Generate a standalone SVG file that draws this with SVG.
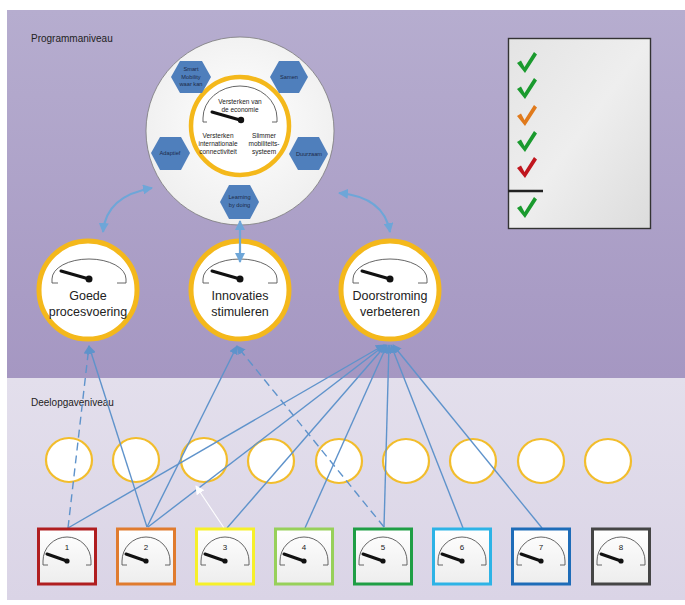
<svg xmlns="http://www.w3.org/2000/svg" width="685" height="605" viewBox="0 0 685 605">
  <defs>
    <linearGradient id="gTop" x1="0" y1="0" x2="0" y2="1">
      <stop offset="0" stop-color="#b6adcf"/>
      <stop offset="1" stop-color="#a597c2"/>
    </linearGradient>
    <linearGradient id="gLow" x1="0" y1="0" x2="0" y2="1">
      <stop offset="0" stop-color="#e3dfec"/>
      <stop offset="1" stop-color="#dad4e6"/>
    </linearGradient>
    <linearGradient id="gPanel" x1="0" y1="0" x2="1" y2="1">
      <stop offset="0" stop-color="#e4e4e4"/>
      <stop offset="0.5" stop-color="#eeeeee"/>
      <stop offset="1" stop-color="#dcdcdc"/>
    </linearGradient>
    <radialGradient id="gDisc" cx="0.5" cy="0.45" r="0.55">
      <stop offset="0" stop-color="#ffffff"/>
      <stop offset="1" stop-color="#efefef"/>
    </radialGradient>
    <linearGradient id="gBox" x1="0" y1="0" x2="0" y2="1">
      <stop offset="0" stop-color="#ffffff"/>
      <stop offset="1" stop-color="#ededed"/>
    </linearGradient>
    <marker id="arr" viewBox="0 0 10 10" refX="9" refY="5" markerWidth="9" markerHeight="9" markerUnits="userSpaceOnUse" orient="auto-start-reverse">
      <path d="M0,0 L10,5 L0,10 z" fill="#5f93cb"/>
    </marker>
    <marker id="arrL" viewBox="0 0 10 10" refX="9" refY="5" markerWidth="10" markerHeight="10" markerUnits="userSpaceOnUse" orient="auto-start-reverse">
      <path d="M0,0 L10,5 L0,10 z" fill="#6ea6d8"/>
    </marker>
    <marker id="arrW" viewBox="0 0 10 10" refX="9" refY="5" markerWidth="9" markerHeight="9" markerUnits="userSpaceOnUse" orient="auto">
      <path d="M0,0 L10,5 L0,10 z" fill="#ffffff"/>
    </marker>
    <path id="tick" d="M-10,0 L-6,-2.5 L-2.5,4 L7,-11 L10,-8.5 L-2,10 Z"/>
    <style>
      .lbl { font-family: "Liberation Sans", Arial, sans-serif; fill: #222; }
      .hex { fill: #4f7fbc; }
      .hext { font-family: "Liberation Sans", Arial, sans-serif; font-size: 5.7px; fill: #1c2a48; text-anchor: middle; }
      .ring { fill: #ffffff; stroke: #f4b81b; stroke-width: 5; }
      .small { fill: #ffffff; stroke: #f2bd2c; stroke-width: 2.2; }
      .arc { fill: none; stroke: #555; stroke-width: 0.9; }
      .needle { stroke: #111; stroke-width: 3; stroke-linecap: round; }
      .big { font-family: "Liberation Sans", Arial, sans-serif; font-size: 12.5px; fill: #222; text-anchor: middle; }
      .core { font-family: "Liberation Sans", Arial, sans-serif; font-size: 6.5px; fill: #222; text-anchor: middle; }
      .conn { fill: none; stroke: #5f93cb; stroke-width: 1.4; }
      .dash { stroke-dasharray: 8 5; }
      .curve { fill: none; stroke: #6ea6d8; stroke-width: 2.2; }
      .box { fill: url(#gBox); stroke-width: 3; }
      .num { font-family: "Liberation Sans", Arial, sans-serif; font-size: 8px; fill: #222; text-anchor: middle; }
    </style>
  </defs>

  <!-- level bands -->
  <rect x="7" y="10" width="678" height="368" fill="url(#gTop)"/>
  <rect x="7" y="378" width="678" height="222" fill="url(#gLow)"/>
  <text class="lbl" x="31" y="42" font-size="10">Programmaniveau</text>
  <text class="lbl" x="31" y="406" font-size="10">Deelopgaveniveau</text>

  <!-- programme disc -->
  <g id="programma">
    <circle cx="240" cy="131" r="94" fill="url(#gDisc)" stroke="#7a7a7a" stroke-width="0.8"/>
    <circle cx="240" cy="126" r="49" fill="#ffffff" stroke="#f4b81b" stroke-width="4.5"/>
    <path class="arc" d="M207,122 H203 V118 A37 32 0 0 1 277,118 V122 H272"/>
    <line class="needle" x1="212" y1="112" x2="240" y2="120" stroke-width="2.5"/>
    <circle cx="241" cy="120" r="3.2" fill="#111"/>
    <text class="core" x="240" y="104">Versterken van</text>
    <text class="core" x="240" y="112">de economie</text>
    <text class="core" x="218" y="138">Versterken</text>
    <text class="core" x="218" y="146">internationale</text>
    <text class="core" x="218" y="154">connectiviteit</text>
    <text class="core" x="264" y="138">Slimmer</text>
    <text class="core" x="264" y="146">mobiliteits-</text>
    <text class="core" x="264" y="154">systeem</text>
  </g>

  <g id="hex-smart">
    <polygon class="hex" points="171,77 180,61 202,61 211,77 202,93 180,93"/>
    <text class="hext" x="191" y="71">Smart</text>
    <text class="hext" x="191" y="78.5">Mobility</text>
    <text class="hext" x="191" y="86">waar kan</text>
  </g>
  <g id="hex-samen">
    <polygon class="hex" points="270,77 279,61 299,61 308,77 299,93 279,93"/>
    <text class="hext" x="289" y="79">Samen</text>
  </g>
  <g id="hex-adaptief">
    <polygon class="hex" points="151,153 160,137 181,137 190,153 181,170 160,170"/>
    <text class="hext" x="170" y="155">Adaptief</text>
  </g>
  <g id="hex-duurzaam">
    <polygon class="hex" points="289,154 298,137 319,137 328,154 319,170 298,170"/>
    <text class="hext" x="309" y="156">Duurzaam</text>
  </g>
  <g id="hex-learning">
    <polygon class="hex" points="220,202 229,185 250,185 259,202 250,219 229,219"/>
    <text class="hext" x="239.5" y="199">Learning</text>
    <text class="hext" x="239.5" y="207">by doing</text>
  </g>

  <!-- checklist panel -->
  <g id="checklist">
    <rect x="508.5" y="38.5" width="142" height="190" fill="url(#gPanel)" stroke="#333" stroke-width="1.4"/>
    <use href="#tick" x="527" y="63" fill="#1a9a2e"/>
    <use href="#tick" x="527" y="89" fill="#1a9a2e"/>
    <use href="#tick" x="527" y="116" fill="#e07a1c"/>
    <use href="#tick" x="527" y="142" fill="#1a9a2e"/>
    <use href="#tick" x="527" y="168" fill="#c0161e"/>
    <line x1="508" y1="191" x2="543" y2="191" stroke="#222" stroke-width="2.5"/>
    <use href="#tick" x="527" y="208" fill="#1a9a2e"/>
  </g>

  <!-- programme goals -->
  <g id="doel-goede">
    <circle class="ring" cx="88" cy="290" r="49"/>
    <path class="arc" d="M58,283 H52 V279 A37 20 0 0 1 126,279 V283 H117"/>
    <line class="needle" x1="61" y1="271" x2="89" y2="279"/>
    <circle cx="89" cy="279" r="3.5" fill="#111"/>
    <text class="big" x="88" y="300">Goede</text>
    <text class="big" x="88" y="316">procesvoering</text>
  </g>
  <g id="doel-innovaties">
    <circle class="ring" cx="240" cy="290" r="49"/>
    <path class="arc" d="M209,283 H203 V279 A37 20 0 0 1 277,279 V283 H268"/>
    <line class="needle" x1="212" y1="271" x2="240" y2="279"/>
    <circle cx="240" cy="279" r="3.5" fill="#111"/>
    <text class="big" x="240" y="300">Innovaties</text>
    <text class="big" x="240" y="316">stimuleren</text>
  </g>
  <g id="doel-doorstroming">
    <circle class="ring" cx="390" cy="290" r="49"/>
    <path class="arc" d="M359,283 H353 V279 A37 20 0 0 1 427,279 V283 H418"/>
    <line class="needle" x1="362" y1="271" x2="390" y2="279"/>
    <circle cx="390" cy="279" r="3.5" fill="#111"/>
    <text class="big" x="390" y="300">Doorstroming</text>
    <text class="big" x="390" y="316">verbeteren</text>
  </g>

  <!-- sub-task circles -->
  <g id="deelopgaven">
    <ellipse class="small" cx="69" cy="460" rx="23" ry="22"/>
    <ellipse class="small" cx="136" cy="460" rx="23" ry="22"/>
    <ellipse class="small" cx="204" cy="460" rx="23" ry="22"/>
    <ellipse class="small" cx="271" cy="461" rx="23" ry="22"/>
    <ellipse class="small" cx="339" cy="461" rx="23" ry="22"/>
    <ellipse class="small" cx="406" cy="461" rx="23" ry="22"/>
    <ellipse class="small" cx="473" cy="461" rx="23" ry="22"/>
    <ellipse class="small" cx="541" cy="461" rx="23" ry="22"/>
    <ellipse class="small" cx="608" cy="461" rx="23" ry="22"/>
  </g>

  <!-- connectors -->
  <g id="connectors">
    <path class="curve" d="M103,232 Q106,196 152,188" marker-start="url(#arrL)" marker-end="url(#arrL)"/>
    <path class="curve" d="M339,193 Q384,197 390,232" marker-start="url(#arrL)" marker-end="url(#arrL)"/>
    <line class="curve" x1="240" y1="221" x2="240" y2="262" stroke-width="1.6" marker-start="url(#arrL)" marker-end="url(#arrL)"/>

    <line class="conn dash" x1="68" y1="528" x2="89" y2="346" marker-end="url(#arr)"/>
    <line class="conn" x1="147" y1="527" x2="89" y2="346" marker-end="url(#arr)"/>
    <line class="conn" x1="147" y1="527" x2="237" y2="346" marker-end="url(#arr)"/>
    <line class="conn dash" x1="384" y1="527" x2="237" y2="346" marker-end="url(#arr)"/>
    <line class="conn" x1="68" y1="528" x2="384" y2="345" marker-end="url(#arr)"/>
    <line class="conn" x1="148" y1="527" x2="385" y2="345" marker-end="url(#arr)"/>
    <line class="conn" x1="227" y1="528" x2="386" y2="345" marker-end="url(#arr)"/>
    <line class="conn" x1="305" y1="528" x2="387" y2="345" marker-end="url(#arr)"/>
    <line class="conn" x1="384" y1="527" x2="389" y2="345" marker-end="url(#arr)"/>
    <line class="conn" x1="463" y1="528" x2="391" y2="345" marker-end="url(#arr)"/>
    <line class="conn" x1="542" y1="528" x2="393" y2="345" marker-end="url(#arr)"/>
    <line x1="224" y1="528" x2="196" y2="486" stroke="#ffffff" stroke-width="1.1" marker-end="url(#arrW)"/>
  </g>

  <!-- sub-task gauges -->
  <g id="meter-1">
    <rect class="box" x="38.5" y="529" width="57" height="55" stroke="#b01e20"/>
    <path class="arc" d="M48,565 H43 V561 A24 24 0 0 1 91,561 V565 H86"/>
    <text class="num" x="67" y="550">1</text>
    <line class="needle" x1="47" y1="554" x2="67" y2="561" stroke-width="2.4"/>
    <circle cx="67" cy="561" r="2.6" fill="#111"/>
  </g>
  <g id="meter-2">
    <rect class="box" x="117.5" y="529" width="57" height="55" stroke="#e07b2e"/>
    <path class="arc" d="M127,565 H122 V561 A24 24 0 0 1 170,561 V565 H165"/>
    <text class="num" x="146" y="550">2</text>
    <line class="needle" x1="126" y1="554" x2="146" y2="561" stroke-width="2.4"/>
    <circle cx="146" cy="561" r="2.6" fill="#111"/>
  </g>
  <g id="meter-3">
    <rect class="box" x="196.5" y="529" width="57" height="55" stroke="#f6f02a"/>
    <path class="arc" d="M206,565 H201 V561 A24 24 0 0 1 249,561 V565 H244"/>
    <text class="num" x="225" y="550">3</text>
    <line class="needle" x1="205" y1="554" x2="225" y2="561" stroke-width="2.4"/>
    <circle cx="225" cy="561" r="2.6" fill="#111"/>
  </g>
  <g id="meter-4">
    <rect class="box" x="275.5" y="529" width="57" height="55" stroke="#97d05a"/>
    <path class="arc" d="M285,565 H280 V561 A24 24 0 0 1 328,561 V565 H323"/>
    <text class="num" x="304" y="550">4</text>
    <line class="needle" x1="284" y1="554" x2="304" y2="561" stroke-width="2.4"/>
    <circle cx="304" cy="561" r="2.6" fill="#111"/>
  </g>
  <g id="meter-5">
    <rect class="box" x="354.5" y="529" width="57" height="55" stroke="#1f9e45"/>
    <path class="arc" d="M364,565 H359 V561 A24 24 0 0 1 407,561 V565 H402"/>
    <text class="num" x="383" y="550">5</text>
    <line class="needle" x1="363" y1="554" x2="383" y2="561" stroke-width="2.4"/>
    <circle cx="383" cy="561" r="2.6" fill="#111"/>
  </g>
  <g id="meter-6">
    <rect class="box" x="433.5" y="529" width="57" height="55" stroke="#2db3e6"/>
    <path class="arc" d="M443,565 H438 V561 A24 24 0 0 1 486,561 V565 H481"/>
    <text class="num" x="462" y="550">6</text>
    <line class="needle" x1="442" y1="554" x2="462" y2="561" stroke-width="2.4"/>
    <circle cx="462" cy="561" r="2.6" fill="#111"/>
  </g>
  <g id="meter-7">
    <rect class="box" x="512.5" y="529" width="57" height="55" stroke="#1e6cb8"/>
    <path class="arc" d="M522,565 H517 V561 A24 24 0 0 1 565,561 V565 H560"/>
    <text class="num" x="541" y="550">7</text>
    <line class="needle" x1="521" y1="554" x2="541" y2="561" stroke-width="2.4"/>
    <circle cx="541" cy="561" r="2.6" fill="#111"/>
  </g>
  <g id="meter-8">
    <rect class="box" x="592.5" y="529" width="57" height="55" stroke="#454545"/>
    <path class="arc" d="M602,565 H597 V561 A24 24 0 0 1 645,561 V565 H640"/>
    <text class="num" x="621" y="550">8</text>
    <line class="needle" x1="601" y1="554" x2="621" y2="561" stroke-width="2.4"/>
    <circle cx="621" cy="561" r="2.6" fill="#111"/>
  </g>
</svg>
